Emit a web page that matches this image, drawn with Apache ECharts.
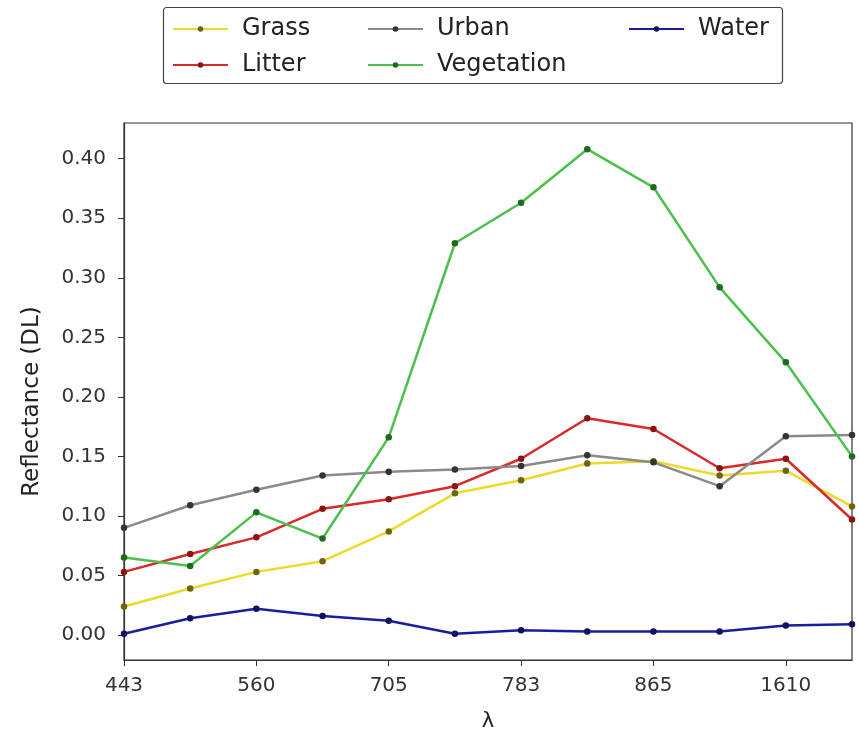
<!DOCTYPE html>
<html>
<head>
<meta charset="utf-8">
<script src="https://cdn.jsdelivr.net/npm/echarts@6/dist/echarts.min.js"></script>
<style>html,body{margin:0;padding:0;background:#fff;}#c{width:860px;height:731px;}</style>
</head>
<body>
<div id="c"></div>
<script>
const categories = ['443','490','560','665','705','740','783','842','865','945','1610','2190'];
const grass      = [0.024,0.039,0.053,0.062,0.087,0.119,0.130,0.144,0.146,0.134,0.138,0.108];
const litter     = [0.053,0.068,0.082,0.106,0.114,0.125,0.148,0.182,0.173,0.140,0.148,0.097];
const urban      = [0.090,0.109,0.122,0.134,0.137,0.139,0.142,0.151,0.145,0.125,0.167,0.168];
const vegetation = [0.065,0.058,0.103,0.081,0.166,0.329,0.363,0.408,0.376,0.292,0.229,0.150];
const water      = [0.001,0.014,0.022,0.016,0.012,0.001,0.004,0.003,0.003,0.003,0.008,0.009];
const yTicks = [0,0.05,0.10,0.15,0.20,0.25,0.30,0.35,0.40];

const font = 'DejaVu Sans';
function mk(name, data, line, dot) {
  return {
    name: name, type: 'line', data: data,
    symbol: 'circle', symbolSize: 6.5, showSymbol: true,
    lineStyle: { color: line, width: 2.5 },
    itemStyle: { color: dot, borderWidth: 0 },
    emphasis: { disabled: true }, animation: false
  };
}
const legendText = { fontFamily: font, fontSize: 24, color: '#222', lineHeight: 26, padding: [0,0,0,9] };
function lg(data, left) {
  return {
    data: data, orient: 'vertical', left: left, top: 11,
    itemWidth: 55, itemHeight: 7, itemGap: 10,
    textStyle: legendText, inactiveColor: '#ccc'
  };
}
const chart = echarts.init(document.getElementById('c'), null, { renderer: 'canvas' });
chart.setOption({
  animation: false,
  backgroundColor: '#fff',
  grid: { left: 124, right: 8, top: 123, bottom: 71, show: true, borderColor: '#333', borderWidth: 1.2, backgroundColor: 'transparent', outerBoundsMode: 'none', containLabel: false },
  legend: [ lg(['Grass','Litter'], 167), lg(['Urban','Vegetation'], 362), lg(['Water'], 623) ],
  graphic: [{ type: 'rect', shape: { x: 163.5, y: 7.5, width: 619, height: 76, r: 3 }, style: { fill: 'none', stroke: '#444', lineWidth: 1.2 }, z: -1 }],
  xAxis: {
    type: 'category', data: categories, boundaryGap: false,
    name: 'λ', nameLocation: 'middle', nameGap: 51,
    nameTextStyle: { fontFamily: font, fontSize: 21, color: '#222' },
    axisLine: { onZero: false, lineStyle: { color: '#333', width: 1.2 } },
    axisTick: { interval: 1, length: 6, lineStyle: { color: '#333' } },
    axisLabel: { interval: 1, fontFamily: font, fontSize: 20, color: '#333', margin: 16 },
    splitLine: { show: false }
  },
  yAxis: {
    type: 'value', min: -0.021, max: 0.43,
    name: 'Reflectance (DL)', nameLocation: 'middle', nameGap: 80, nameRotate: 90,
    nameTextStyle: { fontFamily: font, fontSize: 23, color: '#222', padding: [0,20,0,0] },
    axisLine: { show: true, lineStyle: { color: '#333', width: 1.2 } },
    axisTick: { show: true, length: 6, customValues: yTicks, lineStyle: { color: '#333' } },
    axisLabel: { customValues: yTicks, fontFamily: font, fontSize: 20, color: '#333', margin: 18, formatter: v => v.toFixed(2) },
    splitLine: { show: false }
  },
  series: [
    mk('Grass', grass, '#ecd92a', '#6e6410'),
    mk('Litter', litter, '#d82a2a', '#8a1414'),
    mk('Urban', urban, '#8a8a8a', '#333333'),
    mk('Vegetation', vegetation, '#4cc04c', '#1e6a1e'),
    mk('Water', water, '#1c1c9e', '#10105e')
  ]
});
</script>
</body>
</html>
